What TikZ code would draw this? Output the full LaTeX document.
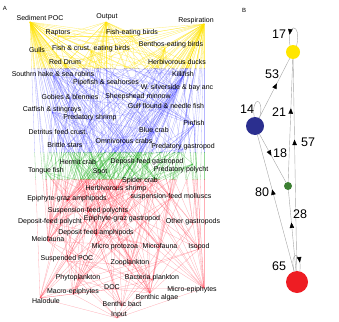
\documentclass[tikz,border=0pt]{standalone}
\usepackage{fontspec}
\setmainfont{Liberation Sans}
\usetikzlibrary{decorations.markings,arrows.meta}
\definecolor{fwY}{RGB}{255,226,0}
\definecolor{fwB}{RGB}{70,70,255}
\definecolor{fwG}{RGB}{20,170,20}
\definecolor{fwR}{RGB}{255,50,70}
\definecolor{cY}{RGB}{255,230,0}
\definecolor{cB}{RGB}{43,47,143}
\definecolor{cG}{RGB}{60,127,50}
\definecolor{cR}{RGB}{238,29,35}
\def\nodelist{%
sedpoc/30/22/40/18/{Sediment POC},
output/106/22/107/17/{Output},
resp/204/24/196/21/{Respiration},
raptor/58/36/58/33/{Raptors},
fbird/132/36/132/33/{Fish-eating birds},
gull/37/52/37/50/{Gulls},
fcbird/91/51/91/49/{Fish \& crust. eating birds},
bbird/165/48/171/45/{Benthos-eating birds},
rdrum/65/64/65/62/{Red Drum},
duck/190/64/177/62/{Herbivorous ducks},
hake/53/76/53/74/{Southrn hake \& sea robins},
killi/183/76/183/74/{Killifish},
pipe/106/85/106/83/{Pipefish \& seahorses},
silver/177/90/177/88/{W. silverside \& bay anc},
goby/70/99/70/97/{Gobies \& blennies},
sheep/138/99/138/97/{Sheepshead minnow},
catfish/52/112/52/110/{Catfish \& stingrays},
gflound/166/108/166/106/{Gulf flound \& needle fish},
pshrimp/90/120/90/118/{Predatory shrimp},
pinfish/194/125/194/123/{Pinfish},
dcrust/58/134/58/132/{Detritus feed crust.},
bcrab/154/132/154/130/{Blue crab},
ocrab/124/143/124/141/{Omnivorous crabs},
brittle/65/147/65/145/{Brittle stars},
pgast/183/149/183/147/{Predatory gastropod},
hermit/78/164/78/162/{Hermit crab},
dgast/147/164/147/162/{Deposit-feed gastropod},
ppoly/193/164/181/170/{Predatory polycht},
tongue/46/172/46/171/{Tongue fish},
spot/100/173/100/172/{Spot},
spider/140/182/140/181/{Spider crab},
hshrimp/116/190/116/189/{Herbivorous shrimp},
smoll/171/198/171/197/{suspension-feed molluscs},
eamph/67/201/67/199/{Epiphyte-graz amphipods},
spoly/88/212/88/211/{Suspension-feed polychts},
dpoly/50/223/50/222/{Deposit-feed polycht},
egast/122/220/122/219/{Epiphyte-graz gastropod},
ogast/193/224/193/222/{Other gastropods},
damph/96/235/96/233/{Deposit feed amphipods},
meio/48/241/48/239/{Meiofauna},
mproto/115/249/115/247/{Micro protozoa},
mfauna/160/247/160/246/{Microfauna},
isopod/199/249/199/247/{Isopod},
spoc/67/261/67/259/{Suspended POC},
zoo/130/265/130/263/{Zooplankton},
phyto/78/280/78/278/{Phytoplankton},
bplank/152/280/152/278/{Bacteria plankton},
doc/112/289/112/287/{DOC},
macro/73/294/73/292/{Macro-epiphytes},
micro/204/288/192/290/{Micro-epiphytes},
balgae/150/293/157/298/{Benthic algae},
bbact/122/306/122/304/{Benthic bact},
halo/40/298/46/301/{Halodule},
input/117/318/119/315/{Input}}
\def\edgelist{%
resp/{raptor,fbird,gull,fcbird,bbird,rdrum,duck,hake,killi,pipe,silver,goby,sheep,catfish,gflound,pshrimp,pinfish,dcrust,bcrab,ocrab,brittle,pgast,hermit,dgast,ppoly,tongue,spot,spider,hshrimp,smoll,eamph,spoly,dpoly,egast,ogast,damph,meio,mproto,mfauna,isopod,zoo,phyto,bplank,macro,micro,balgae,bbact,halo},
sedpoc/{raptor,fbird,gull,fcbird,bbird,rdrum,duck,hake,killi,pipe,silver,goby,sheep,catfish,gflound,pshrimp,pinfish,dcrust,bcrab,ocrab,brittle,pgast,hermit,dgast,ppoly,tongue,spot,spider,hshrimp,smoll,eamph,spoly,dpoly,egast,ogast,damph,meio,mproto,mfauna,isopod,zoo,phyto,bplank,macro,micro,balgae,bbact,halo},
output/{raptor,fbird,gull,fcbird,bbird,rdrum,duck,hake,killi,pipe,silver,goby,sheep,catfish,gflound,pshrimp,pinfish,bcrab,ocrab,spot,tongue,hermit,pgast,spoc,doc,halo,macro,phyto,zoo},
input/{halo,macro,micro,balgae,phyto,bbact,bplank,doc,spoc},
raptor/{fbird,gull,duck,rdrum,catfish,fcbird},
fbird/{pipe,silver,killi,goby,sheep,pinfish,hake,gflound,spot},
gull/{pinfish,silver,bcrab,ocrab,spot,killi},
fcbird/{bcrab,pshrimp,hshrimp,killi,silver,sheep,pinfish,spot,goby,ocrab,hermit,spider},
bbird/{brittle,ocrab,hermit,dgast,egast,ogast,smoll,spoly,damph,eamph,hshrimp,spider},
duck/{halo,macro,egast,eamph,hshrimp,micro,balgae},
rdrum/{pinfish,spot,bcrab,ocrab,pshrimp,hshrimp,goby,catfish,silver,killi,tongue,hermit},
hake/{pshrimp,hshrimp,goby,spot,pinfish,silver,bcrab,ocrab,eamph,damph},
killi/{eamph,damph,hshrimp,zoo,meio,isopod,spoly,dpoly,micro},
pipe/{zoo,eamph,damph,hshrimp,isopod},
silver/{zoo,eamph,hshrimp,damph,meio},
goby/{eamph,damph,meio,spoly,dpoly,isopod,hshrimp},
sheep/{macro,micro,balgae,eamph,meio,dpoly,spoc,halo},
catfish/{ocrab,bcrab,hermit,brittle,dgast,spoly,dpoly,hshrimp,pshrimp,tongue,spot,smoll},
gflound/{pinfish,silver,killi,goby,sheep,pshrimp,hshrimp,spot,pipe},
pshrimp/{eamph,damph,hshrimp,meio,spoly,dpoly,zoo,isopod},
pinfish/{halo,macro,micro,eamph,damph,hshrimp,egast,spoly,isopod,smoll},
dcrust/{bbact,balgae,meio,mfauna,dpoly,spoc},
bcrab/{ocrab,smoll,hermit,dgast,egast,ogast,spoly,dpoly,hshrimp,halo,brittle},
ocrab/{egast,ogast,smoll,spoly,dpoly,hshrimp,eamph,damph,macro,balgae},
brittle/{spoc,meio,dpoly,balgae,mfauna},
pgast/{smoll,egast,ogast,dgast,hermit,spoly},
hermit/{balgae,egast,spoly,meio,micro},
dgast/{balgae,bbact,micro,mfauna},
ppoly/{spoly,dpoly,meio,damph,eamph,mfauna,isopod},
tongue/{dpoly,spoly,damph,eamph,meio,hshrimp,isopod},
spot/{dpoly,spoly,damph,eamph,meio,hshrimp,isopod,zoo,mfauna,smoll},
spider/{macro,micro,spoly,egast,eamph},
hshrimp/{macro,micro,balgae,halo,bbact},
smoll/{spoc,phyto,zoo,bplank,mproto},
eamph/{micro,macro,halo,balgae},
spoly/{spoc,phyto,zoo,bplank,mproto},
dpoly/{bbact,balgae,meio,mfauna},
egast/{micro,macro,halo,balgae},
ogast/{micro,balgae,bbact},
damph/{balgae,bbact,mfauna},
meio/{bbact,balgae,mfauna},
mproto/{bplank,phyto,doc},
mfauna/{bbact,balgae},
isopod/{halo,macro,micro,balgae},
spoc/{phyto,bplank,zoo},
zoo/{phyto,bplank,mproto},
bplank/{doc},
bbact/{doc},
doc/{phyto,halo,macro,micro,balgae},
macro/{halo}}
\newcommand\fwedges{\foreach \s/\tl in \edgelist {\foreach \t in \tl {\draw[fwedge] (\s) -- (\t);}}}
\tikzset{
  fwedge/.style={line width=.25pt,draw=gray},
  lbl/.style={font=\fontsize{7}{8}\selectfont,inner sep=0pt,text=black},
  blbl/.style={font=\fontsize{12.5}{14}\selectfont,inner sep=0pt},
  plbl/.style={font=\fontsize{6}{7}\selectfont,inner sep=0pt},
  mline/.style={line width=.4pt,draw=black!35},
  marr/.style={postaction={decorate},decoration={markings,mark=at position #1 with {\arrow[black,fill=black]{Triangle[length=5.5pt,width=4.5pt]}}}},
  mod/.style={circle,inner sep=0pt,draw=none}
}
\begin{document}
\begin{tikzpicture}[x=1pt,y=-1pt]
\useasboundingbox (0,0) rectangle (339,321);
\foreach \n/\x/\y/\lx/\ly/\tx in \nodelist {\coordinate (\n) at (\x,\y);}
% edges, coloured by band
\begin{scope}
  \clip (0,0) rectangle (339,68);
  \begin{scope}[fwedge/.style={line width=.3pt,draw=fwY,draw opacity=.6}] \fwedges \end{scope}
\end{scope}
\begin{scope}
  \clip (0,68) rectangle (339,152);
  \begin{scope}[fwedge/.style={line width=.3pt,draw=fwB,draw opacity=.4}] \fwedges \end{scope}
\end{scope}
\begin{scope}
  \clip (0,152) rectangle (339,179);
  \begin{scope}[fwedge/.style={line width=.3pt,draw=fwG,draw opacity=.45}] \fwedges \end{scope}
\end{scope}
\begin{scope}
  \clip (0,179) rectangle (339,321);
  \begin{scope}[fwedge/.style={line width=.3pt,draw=fwR,draw opacity=.4}] \fwedges \end{scope}
\end{scope}
\foreach \n/\x/\y/\lx/\ly/\tx in \nodelist {\node[lbl] (\n-l) at (\lx,\ly) {\tx};}
\node[plbl] (pA) at (5,8) {A};
\node[plbl] (pB) at (244,10) {B};
% panel B
\node[mod,fill=cY,minimum size=14pt] (MY) at (293,52) {};
\node[mod,fill=cB,minimum size=18pt] (MB) at (255,126) {};
\node[mod,fill=cG,minimum size=8pt] (MG) at (288,186) {};
\node[mod,fill=cR,minimum size=22pt] (MR) at (297,282) {};
\draw[mline,marr=0.58] (MB) -- (MY);
\draw[mline,marr=0.6] (MG) -- (MY);
\draw[mline,marr=0.62] (MR) -- (MY);
\draw[mline,marr=0.45] (MB) -- (MG);
\draw[mline,marr=0.6] (MR) -- (MB);
\draw[mline,marr=0.6] (MR) -- (MG);
\draw[mline,marr=0.72] (MY.60) .. controls (302,22) and (286,22) .. (MY.115);
\draw[mline] (MB.95) .. controls (251,96) and (265,96) .. (MB.60);
\draw[mline,marr=0.75] (MR.105) .. controls (289,250) and (302,250) .. (MR.75);
\node[blbl] (l17) at (279,34) {17};
\node[blbl] (l14) at (247,109) {14};
\node[blbl] (l53) at (272,74) {53};
\node[blbl] (l21) at (279,112) {21};
\node[blbl] (l57) at (308,142) {57};
\node[blbl] (l18) at (280,153) {18};
\node[blbl] (l80) at (262,192) {80};
\node[blbl] (l28) at (300,214) {28};
\node[blbl] (l65) at (279,266) {65};
\end{tikzpicture}
\end{document}
